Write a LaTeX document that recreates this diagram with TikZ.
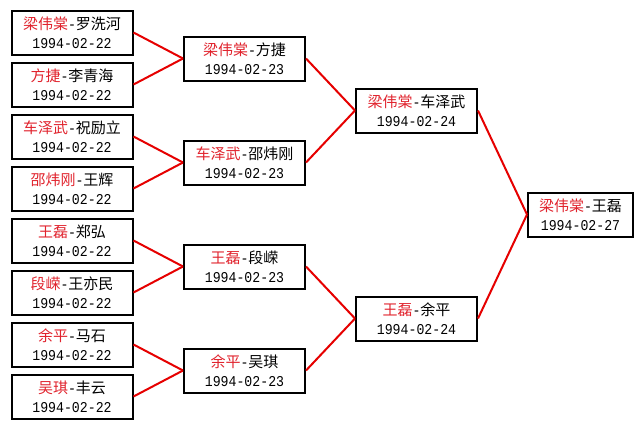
\documentclass[tikz,border=0pt]{standalone}
\usepackage{fontspec}
\newfontfamily\cjk{Noto Sans CJK SC}
\newfontfamily\mono[FakeStretch=0.88]{Liberation Mono}
\definecolor{nm}{RGB}{225,35,45}
\definecolor{ln}{RGB}{230,0,0}
\tikzset{
  match/.style={draw=black, line width=2pt, fill=white, minimum width=121pt, minimum height=44pt,
    inner sep=0pt, align=center, font=\cjk\fontsize{15pt}{19pt}\selectfont},
  final/.style={match, minimum width=105pt},
  link/.style={draw=ln, line width=2pt},
}
\newcommand\pairtxt[3]{\textcolor{nm}{#1}{\mono\fontsize{15pt}{19pt}\selectfont -}#2\\{\mono\fontsize{15pt}{19pt}\selectfont #3}}
\begin{document}
\begin{tikzpicture}[x=1pt,y=-1pt]
\fill[white] (0,0) rectangle (644,429);
\useasboundingbox (0,0) rectangle (644,429);
% round 1
\node[match] (a1) at (72,32.5)  {\pairtxt{梁伟棠}{罗洗河}{1994-02-22}};
\node[match] (a2) at (72,84.5)  {\pairtxt{方捷}{李青海}{1994-02-22}};
\node[match] (a3) at (72,136.5) {\pairtxt{车泽武}{祝励立}{1994-02-22}};
\node[match] (a4) at (72,188.5) {\pairtxt{邵炜刚}{王辉}{1994-02-22}};
\node[match] (a5) at (72,240.5) {\pairtxt{王磊}{郑弘}{1994-02-22}};
\node[match] (a6) at (72,292.5) {\pairtxt{段嵘}{王亦民}{1994-02-22}};
\node[match] (a7) at (72,344.5) {\pairtxt{余平}{马石}{1994-02-22}};
\node[match] (a8) at (72,396.5) {\pairtxt{吴琪}{丰云}{1994-02-22}};
% round 2
\node[match] (b1) at (244.5,58.5)  {\pairtxt{梁伟棠}{方捷}{1994-02-23}};
\node[match] (b2) at (244.5,162.5) {\pairtxt{车泽武}{邵炜刚}{1994-02-23}};
\node[match] (b3) at (244.5,266.5) {\pairtxt{王磊}{段嵘}{1994-02-23}};
\node[match] (b4) at (244.5,370.5) {\pairtxt{余平}{吴琪}{1994-02-23}};
% round 3
\node[match] (c1) at (416.5,110.5) {\pairtxt{梁伟棠}{车泽武}{1994-02-24}};
\node[match] (c2) at (416.5,318.5) {\pairtxt{王磊}{余平}{1994-02-24}};
% final
\node[final] (d1) at (580.5,214.5) {\pairtxt{梁伟棠}{王磊}{1994-02-27}};
% links
\draw[link] (a1.east) -- (b1.west);
\draw[link] (a2.east) -- (b1.west);
\draw[link] (a3.east) -- (b2.west);
\draw[link] (a4.east) -- (b2.west);
\draw[link] (a5.east) -- (b3.west);
\draw[link] (a6.east) -- (b3.west);
\draw[link] (a7.east) -- (b4.west);
\draw[link] (a8.east) -- (b4.west);
\draw[link] (b1.east) -- (c1.west);
\draw[link] (b2.east) -- (c1.west);
\draw[link] (b3.east) -- (c2.west);
\draw[link] (b4.east) -- (c2.west);
\draw[link] (c1.east) -- (d1.west);
\draw[link] (c2.east) -- (d1.west);
\end{tikzpicture}
\end{document}
